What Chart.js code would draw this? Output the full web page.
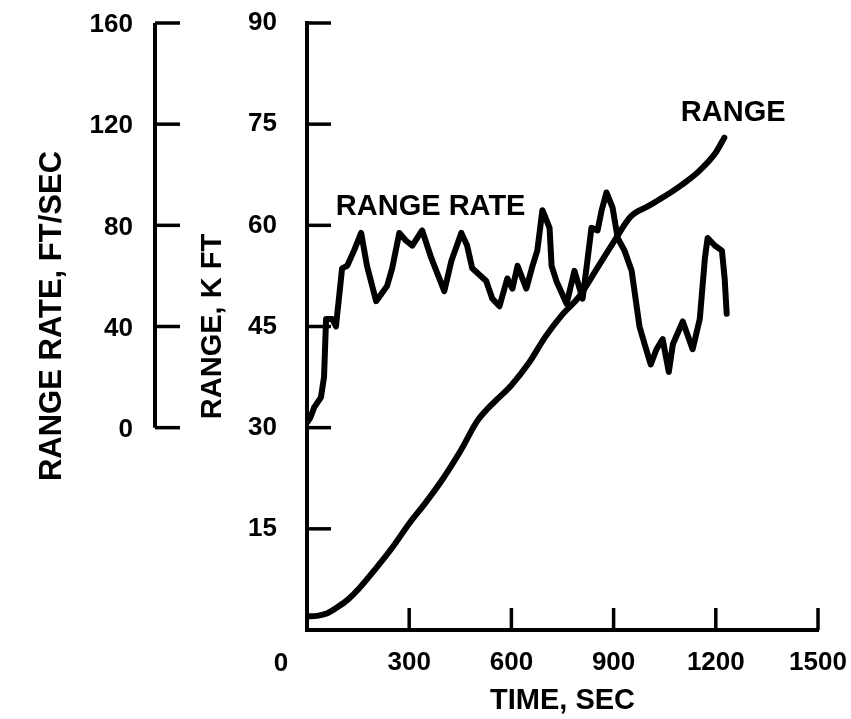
<!DOCTYPE html>
<html>
<head>
<meta charset="utf-8">
<script src="https://cdn.jsdelivr.net/npm/chart.js@4.4.1/dist/chart.umd.min.js"></script>
<style>
	html, body { margin: 0; padding: 0; background: #fff; }
	canvas { display: block; }
</style>
</head>
<body>
<canvas id="chartRange" width="851" height="719"></canvas>
<script>
'use strict'

// range, K FT vs time, SEC
const rangeTime = [0, 30, 60, 90, 120, 150, 200, 250, 300, 350, 400, 450, 500, 530, 560, 600, 650, 700, 750, 800, 850, 900, 950, 1000, 1050, 1100, 1150, 1200, 1225];
const rangeKft = [2.0, 2.1, 2.5, 3.4, 4.5, 6.0, 9.0, 12.2, 15.8, 19.0, 22.5, 26.5, 31.0, 32.8, 34.3, 36.3, 39.5, 43.5, 46.8, 49.5, 53.5, 57.5, 61.3, 62.8, 64.3, 66.0, 68.0, 70.8, 73.0];

// range rate, FT/SEC vs time, SEC
const rateTime = [0, 10, 21, 41, 50, 56, 74, 85, 103, 118, 138, 159, 176, 203, 235, 250, 271, 290, 309, 338, 365, 403, 424, 453, 470, 485, 526, 544, 565, 588, 603, 618, 644, 662, 676, 691, 712, 718, 732, 762, 785, 809, 824, 835, 853, 865, 879, 897, 912, 932, 953, 976, 991, 1009, 1026, 1044, 1062, 1074, 1103, 1132, 1153, 1168, 1176, 1197, 1218, 1226, 1232];
const rateFtSec = [2, 4, 8, 12, 20, 43, 43, 40, 63, 64, 70, 77, 64, 50, 56, 63, 77, 74, 72, 78, 67, 54, 66, 77, 72, 63, 58, 51, 48, 59, 55, 64, 55, 64, 70, 86, 79, 64, 58, 49, 62, 51, 67, 79, 78, 86, 93, 87, 75, 70, 62, 40, 33, 25, 31, 35, 22, 33, 42, 31, 43, 67, 75, 72, 70, 59, 45];

const rateTicks = [0, 40, 80, 120, 160];

const fontFamily = '"Liberation Sans", Arial, Helvetica, sans-serif';
const tickFont = { family: fontFamily, size: 26, weight: 'bold' };
const titleFont = { family: fontFamily, size: 29, weight: 'bold' };

const curveLabels = [
	{ text: 'RANGE RATE', x: 363, y: 62.7 },
	{ text: 'RANGE', x: 1251, y: 76.7 },
];

const axisDecor = {
	id: 'axisDecor',
	afterDraw(chart) {
		const { ctx, chartArea: { left, bottom }, scales: { x, y, y2 } } = chart;
		ctx.save();
		ctx.strokeStyle = '#000';
		ctx.fillStyle = '#000';
		ctx.lineCap = 'butt';

		// inward ticks on the main axes
		ctx.lineWidth = 3.5;
		x.ticks.forEach(t => {
			if (t.value === 0) return;
			const px = x.getPixelForValue(t.value);
			ctx.beginPath();
			ctx.moveTo(px, bottom);
			ctx.lineTo(px, bottom - 22);
			ctx.stroke();
		});
		y.ticks.forEach(t => {
			if (t.value === 0) return;
			const py = y.getPixelForValue(t.value);
			ctx.beginPath();
			ctx.moveTo(left, py);
			ctx.lineTo(left + 24, py);
			ctx.stroke();
		});

		// shared origin label
		ctx.font = 'bold 26px ' + fontFamily;
		ctx.textAlign = 'center';
		ctx.textBaseline = 'middle';
		ctx.fillText('0', x.getPixelForValue(0) - 26, bottom + 34);

		// range rate axis
		const ax = 155;
		ctx.lineWidth = 4;
		ctx.beginPath();
		ctx.moveTo(ax, y2.getPixelForValue(rateTicks[0]));
		ctx.lineTo(ax, y2.getPixelForValue(rateTicks[rateTicks.length - 1]));
		ctx.stroke();
		ctx.lineWidth = 3.5;
		ctx.textAlign = 'right';
		ctx.textBaseline = 'middle';
		rateTicks.forEach(v => {
			const py = y2.getPixelForValue(v);
			ctx.beginPath();
			ctx.moveTo(ax, py);
			ctx.lineTo(ax + 25, py);
			ctx.stroke();
			ctx.fillText(String(v), ax - 22, py + 2);
		});
		ctx.save();
		ctx.translate(52, 316);
		ctx.rotate(-Math.PI / 2);
		ctx.textAlign = 'center';
		ctx.font = 'bold 31px ' + fontFamily;
		ctx.fillText('RANGE RATE, FT/SEC', 0, 0);
		ctx.restore();

		// curve labels
		ctx.font = 'bold 29px ' + fontFamily;
		ctx.textAlign = 'center';
		ctx.textBaseline = 'middle';
		curveLabels.forEach(l => {
			ctx.fillText(l.text, x.getPixelForValue(l.x), y.getPixelForValue(l.y));
		});
		ctx.restore();
	},
};

const chart = new Chart(document.getElementById('chartRange'), {
	type: 'line',
	data: {
		datasets: [
			{
				label: 'RANGE',
				data: rangeTime.map((t, i) => ({ x: t, y: rangeKft[i] })),
				borderColor: '#000',
				borderWidth: 6,
				borderCapStyle: 'round',
				pointRadius: 0,
				cubicInterpolationMode: 'monotone',
				yAxisID: 'y',
			},
			{
				label: 'RANGE RATE',
				data: rateTime.map((t, i) => ({ x: t, y: rateFtSec[i] })),
				borderColor: '#000',
				borderWidth: 6,
				borderJoinStyle: 'round',
				borderCapStyle: 'round',
				pointRadius: 0,
				tension: 0,
				yAxisID: 'y2',
			},
		],
	},
	options: {
		responsive: false,
		animation: false,
		layout: {
			padding: { left: 0, right: 33, top: 23, bottom: 0 },
		},
		plugins: {
			legend: { display: false },
			tooltip: { enabled: false },
		},
		scales: {
			x: {
				type: 'linear',
				min: 0,
				max: 1500,
				ticks: {
					stepSize: 300,
					font: tickFont,
					color: '#000',
					padding: 9,
					maxRotation: 0,
					callback: v => v === 0 ? '' : v,
				},
				grid: { display: false },
				border: { display: true, color: '#000', width: 4 },
				title: {
					display: true,
					text: 'TIME, SEC',
					font: titleFont,
					color: '#000',
					padding: { top: 0, bottom: 1 },
				},
				afterFit(scale) {
					scale.height = 89;
					scale.paddingLeft = 0;
					scale.paddingRight = 0;
				},
			},
			y: {
				min: 0,
				max: 90,
				ticks: {
					stepSize: 15,
					font: tickFont,
					color: '#000',
					padding: 22,
					callback: v => v === 0 ? '' : v,
				},
				grid: { display: false },
				border: { display: true, color: '#000', width: 4 },
				title: {
					display: true,
					text: 'RANGE, K FT',
					font: titleFont,
					color: '#000',
					padding: { top: 196, bottom: 0 },
				},
				afterFit(scale) {
					scale.width = 307;
					scale.paddingTop = 0;
					scale.paddingBottom = 0;
				},
			},
			y2: {
				display: false,
				position: 'left',
				min: -80,
				max: 160,
			},
		},
	},
	plugins: [axisDecor],
});
</script>
</body>
</html>
